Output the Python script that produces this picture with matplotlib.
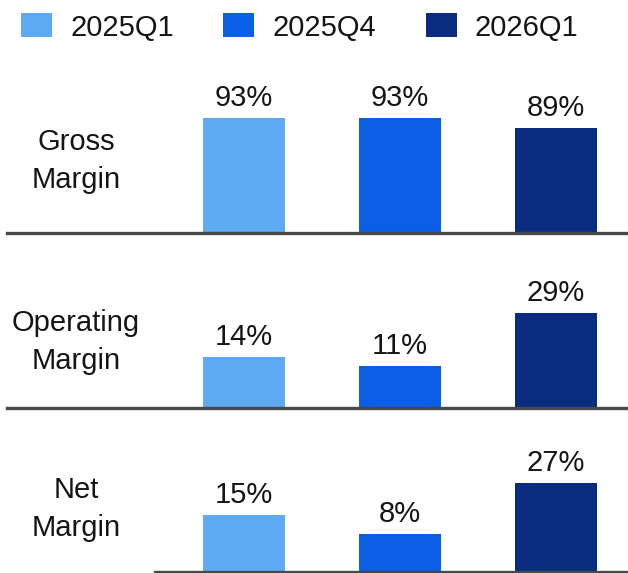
import matplotlib
matplotlib.use("Agg")
import matplotlib.pyplot as plt
from matplotlib.patches import Patch
import numpy as np

# Data
quarters = ["2025Q1", "2025Q4", "2026Q1"]
metrics = ["Gross\nMargin", "Operating\nMargin", "Net\nMargin"]
gross_margin = [93, 93, 89]
operating_margin = [14, 11, 29]
net_margin = [15, 8, 27]
colors = ["#5EAAF2", "#0B5FE6", "#0A2C80"]

plt.rcParams["font.family"] = ["Liberation Sans", "DejaVu Sans"]
FS = 21
TEXT = "#151515"

W, H = 628, 573
fig = plt.figure(figsize=(W / 100, H / 100), dpi=100)
fig.patch.set_facecolor("white")

# panel layout: baseline (px from top), px per percentage point, axis floor,
# label centre y, left end of the baseline rule
panels = [
    dict(values=gross_margin, base=233, scale=2.5, floor=47, label_y=161, line_x=7),
    dict(values=operating_margin, base=408, scale=2.97, floor=-3.1, label_y=342, line_x=7),
    dict(values=net_margin, base=572, scale=2.72, floor=-5.9, label_y=509, line_x=155),
]

x_first, x_step, bar_px = 244, 156, 82
x = np.arange(len(quarters))

for metric, p in zip(metrics, panels):
    top = p["base"] - 150
    ax = fig.add_axes([0, 1 - p["base"] / H, 1, (p["base"] - top) / H])
    ax.set_xlim(-x_first / x_step, (W - x_first) / x_step)
    ax.set_ylim(p["floor"], p["floor"] + (p["base"] - top) / p["scale"])
    ax.axis("off")
    vals = np.array(p["values"], dtype=float)
    ax.bar(x, vals - p["floor"], bottom=p["floor"], width=bar_px / x_step,
           color=colors, zorder=2)
    for xi, v in zip(x, p["values"]):
        ax.annotate(f"{v}%", (xi, v), xytext=(0, 8.6), textcoords="offset points",
                    ha="center", va="baseline", fontsize=FS, color=TEXT,
                    annotation_clip=False)
    ax.axhline(p["floor"], xmin=p["line_x"] / W, xmax=1, color="#484848",
               linewidth=2.4, zorder=3, clip_on=False)
    fig.text(76 / W, 1 - p["label_y"] / H, metric, ha="center", va="center",
             fontsize=FS, color=TEXT, linespacing=1.42)

handles = [Patch(facecolor=c, edgecolor="none") for c in colors]
fig.legend(handles, quarters, loc="center left", bbox_to_anchor=(21 / W, 1 - 27.5 / H),
           ncol=3, frameon=False, fontsize=FS, borderpad=0, borderaxespad=0,
           handlelength=1.06, handleheight=0.89, handletextpad=0.62,
           columnspacing=1.71, labelcolor=TEXT)

fig.savefig("out.png", dpi=100, facecolor="white")
